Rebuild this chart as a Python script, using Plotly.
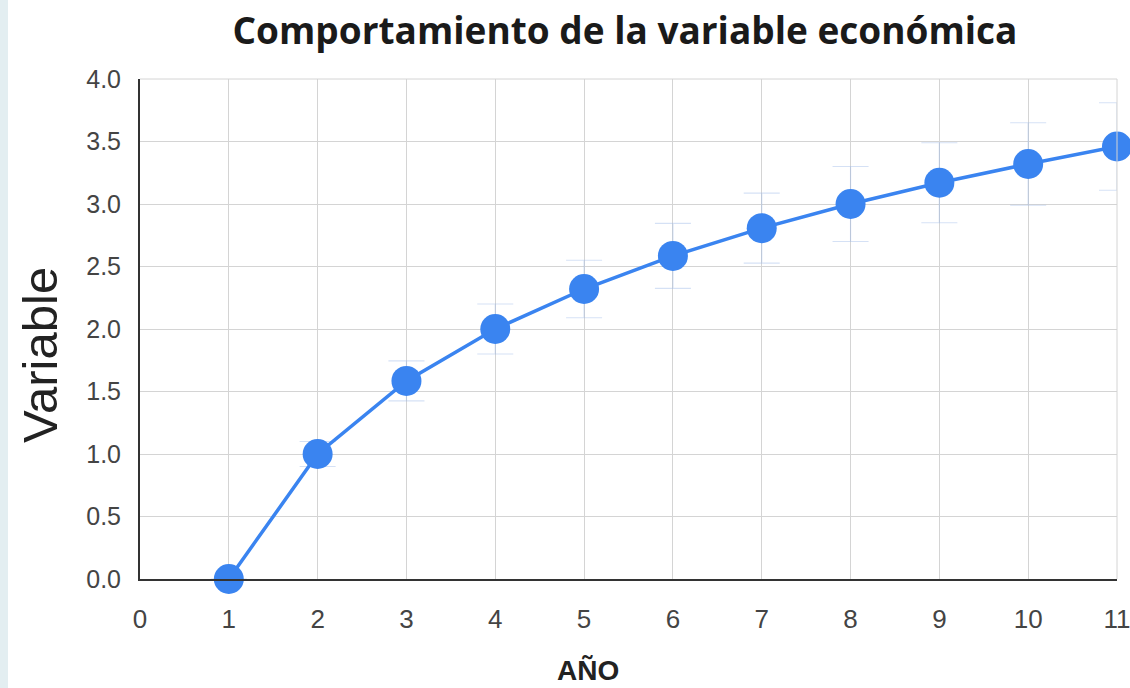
import plotly.graph_objects as go

years = [1, 2, 3, 4, 5, 6, 7, 8, 9, 10, 11]
values = [0.0, 1.0, 1.585, 2.0, 2.32, 2.585, 2.807, 3.0, 3.17, 3.32, 3.46]
errors = [0.0, 0.1, 0.16, 0.2, 0.23, 0.26, 0.28, 0.3, 0.32, 0.33, 0.35]
x_ticks = [0, 1, 2, 3, 4, 5, 6, 7, 8, 9, 10, 11]
y_ticks = [0.0, 0.5, 1.0, 1.5, 2.0, 2.5, 3.0, 3.5, 4.0]

fig = go.Figure()
fig.add_trace(go.Scatter(
    x=years, y=values, mode="lines+markers",
    line=dict(color="#3a84f0", width=3.5),
    marker=dict(size=30, color="#3a84f0"),
    error_y=dict(type="data", array=errors, visible=True,
                 color="rgba(150,180,230,0.4)", thickness=1.2, width=18),
    cliponaxis=False, showlegend=False,
))

fig.update_layout(
    width=1130, height=688,
    margin=dict(l=140, r=13, t=79, b=109, autoexpand=False),
    paper_bgcolor="white", plot_bgcolor="white",
    title=dict(text="<b>Comportamiento de la variable económica</b>",
               x=625/1130, xanchor="center", y=1-31/688, yanchor="middle",
               font=dict(family="Open Sans", size=37, color="#1a1a1a")),
    xaxis=dict(range=[0, 11], tickvals=x_ticks, ticktext=[str(t) for t in x_ticks],
               showgrid=True, gridcolor="#d4d4d4", gridwidth=1,
               showline=True, linecolor="#333333", linewidth=2,
               zeroline=False, ticks="", ticklabelstandoff=16,
               ticklabeloverflow="allow", automargin=False,
               tickfont=dict(family="Arial", size=26, color="#444444")),
    yaxis=dict(range=[0, 4], tickvals=y_ticks, ticktext=[f"{t:.1f}" for t in y_ticks],
               showgrid=True, gridcolor="#d4d4d4", gridwidth=1,
               showline=True, linecolor="#333333", linewidth=2,
               zeroline=False, ticks="", ticklabelstandoff=12, automargin=False,
               tickfont=dict(family="Arial", size=25, color="#444444")),
    shapes=[dict(type="rect", xref="paper", yref="paper", x0=-140/977, x1=-132/977,
                 y0=-109/500, y1=1+79/500, fillcolor="#e3eef1", line=dict(width=0), layer="below"),
            dict(type="line", xref="paper", yref="paper", x0=0, x1=1, y0=1, y1=1,
                 line=dict(color="#d4d4d4", width=1)),
            dict(type="line", xref="paper", yref="paper", x0=1, x1=1, y0=0, y1=1,
                 line=dict(color="#d4d4d4", width=1))],
    annotations=[
        dict(text="Variable", xref="paper", yref="paper", x=-100/977, y=(579-355)/500,
             xanchor="center", yanchor="middle", textangle=-90, showarrow=False,
             font=dict(family="Arial", size=49, color="#222222")),
        dict(text="<b>AÑO</b>", xref="paper", yref="paper", x=(588-140)/977, y=-(670-579)/500,
             xanchor="center", yanchor="middle", showarrow=False,
             font=dict(family="Arial", size=28, color="#222222")),
    ],
)

fig.write_html("out.html", config={"displayModeBar": False},
               post_script="document.body.style.margin='0px';")
